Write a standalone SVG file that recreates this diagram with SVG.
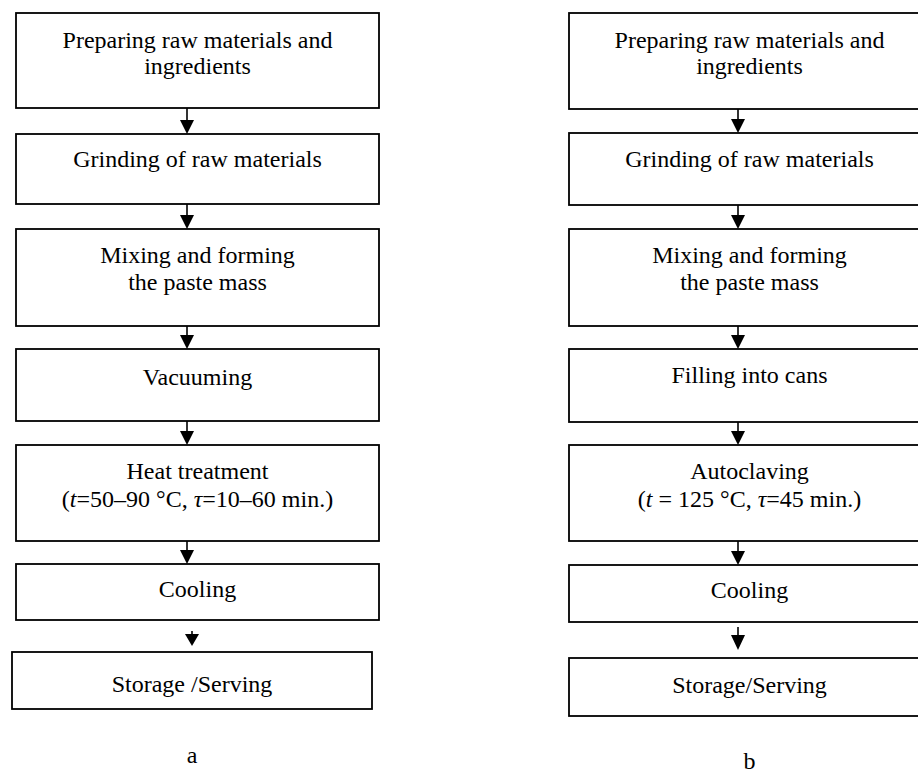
<svg xmlns="http://www.w3.org/2000/svg" width="918" height="774" viewBox="0 0 918 774">
<style>
.box{fill:#fff;stroke:#000;stroke-width:1.8}
.t{font-family:"Liberation Serif","Times New Roman",serif;font-size:24px;fill:#000;text-anchor:middle}
.c line{stroke:#000;stroke-width:1.6}
.c polygon{fill:#000}
</style>
<rect width="918" height="774" fill="#fff"/>
<g id="a1"><rect class="box" x="16" y="13" width="363" height="95"/><text class="t" x="197.5" y="48">Preparing raw materials and</text><text class="t" x="197.5" y="74">ingredients</text></g>
<g id="a2"><rect class="box" x="16" y="134" width="363" height="70"/><text class="t" x="197.5" y="167">Grinding of raw materials</text></g>
<g id="a3"><rect class="box" x="16" y="229" width="363" height="97"/><text class="t" x="197.5" y="263">Mixing and forming</text><text class="t" x="197.5" y="290">the paste mass</text></g>
<g id="a4"><rect class="box" x="16" y="349" width="363" height="72"/><text class="t" x="197.5" y="385">Vacuuming</text></g>
<g id="a5"><rect class="box" x="16" y="445" width="363" height="96"/><text class="t" x="197.5" y="479">Heat treatment</text><text class="t" x="197.5" y="507">(<tspan font-style="italic">t</tspan>=50–90 °C, <tspan font-style="italic">τ</tspan>=10–60 min.)</text></g>
<g id="a6"><rect class="box" x="16" y="564" width="363" height="56"/><text class="t" x="197.5" y="597">Cooling</text></g>
<g id="a7"><rect class="box" x="12" y="652" width="360" height="57"/><text class="t" x="192" y="692">Storage /Serving</text></g>
<g id="b1"><rect class="box" x="569" y="13" width="361" height="96"/><text class="t" x="749.5" y="48">Preparing raw materials and</text><text class="t" x="749.5" y="74">ingredients</text></g>
<g id="b2"><rect class="box" x="569" y="133" width="361" height="72"/><text class="t" x="749.5" y="167">Grinding of raw materials</text></g>
<g id="b3"><rect class="box" x="569" y="229" width="361" height="97"/><text class="t" x="749.5" y="263">Mixing and forming</text><text class="t" x="749.5" y="290">the paste mass</text></g>
<g id="b4"><rect class="box" x="569" y="349" width="361" height="73"/><text class="t" x="749.5" y="383">Filling into cans</text></g>
<g id="b5"><rect class="box" x="569" y="445" width="361" height="96"/><text class="t" x="749.5" y="479">Autoclaving</text><text class="t" x="749.5" y="507">(<tspan font-style="italic">t</tspan> = 125 °C, <tspan font-style="italic">τ</tspan>=45 min.)</text></g>
<g id="b6"><rect class="box" x="569" y="565" width="361" height="57"/><text class="t" x="749.5" y="598">Cooling</text></g>
<g id="b7"><rect class="box" x="569" y="658" width="361" height="58"/><text class="t" x="749.5" y="693">Storage/Serving</text></g>
<g class="c" id="connectors">
<line x1="187" y1="108" x2="187" y2="122"/><polygon points="180,120 194,120 187,134"/>
<line x1="187" y1="204" x2="187" y2="217"/><polygon points="180,215 194,215 187,229"/>
<line x1="187" y1="326" x2="187" y2="337"/><polygon points="180,335 194,335 187,349"/>
<line x1="187" y1="421" x2="187" y2="433"/><polygon points="180,431 194,431 187,445"/>
<line x1="187" y1="541" x2="187" y2="552"/><polygon points="180,550 194,550 187,564"/>
<line x1="192" y1="631" x2="192" y2="636"/><polygon points="185,634 199,634 192,646"/>
<line x1="738" y1="109" x2="738" y2="121"/><polygon points="731,119 745,119 738,133"/>
<line x1="738" y1="205" x2="738" y2="217"/><polygon points="731,215 745,215 738,229"/>
<line x1="738" y1="326" x2="738" y2="337"/><polygon points="731,335 745,335 738,349"/>
<line x1="738" y1="422" x2="738" y2="433"/><polygon points="731,431 745,431 738,445"/>
<line x1="738" y1="541" x2="738" y2="553"/><polygon points="731,551 745,551 738,565"/>
<line x1="738" y1="627" x2="738" y2="637"/><polygon points="731,635 745,635 738,650"/>
</g>
<text class="t" x="192" y="763">a</text>
<text class="t" x="749.5" y="769">b</text>
</svg>
